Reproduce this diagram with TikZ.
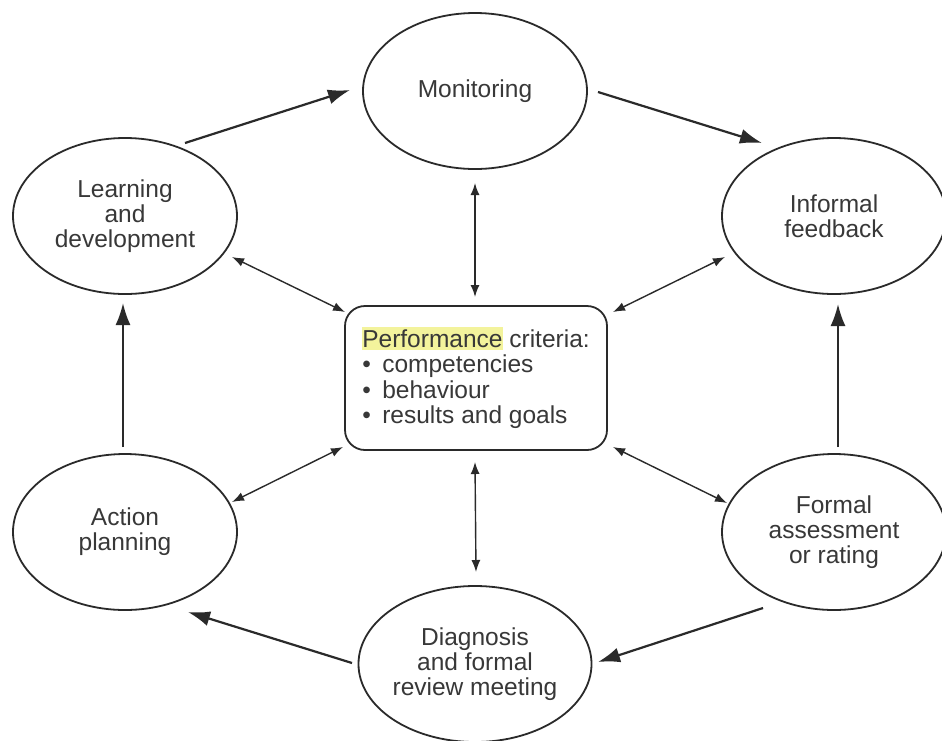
\documentclass[tikz,border=0pt]{standalone}
\usepackage{fontspec}
\setmainfont{Liberation Sans}
\usetikzlibrary{arrows.meta,shapes.geometric}
\definecolor{ink}{HTML}{2A2A2A}
\definecolor{txt}{HTML}{383838}
\definecolor{hly}{HTML}{F3F39C}
\newcommand\hlword[1]{\begingroup\setlength\fboxsep{0pt}\colorbox{hly}{\rule[-3pt]{0pt}{23pt}#1}\endgroup}
\newcommand\bulletitem{\makebox[20pt][l]{•}}
\begin{document}
\begin{tikzpicture}[x=1pt,y=-1pt,
  oval/.style={ellipse, draw=ink, line width=1.8pt, minimum width=224pt, minimum height=156pt,
    inner sep=0pt, align=center, font=\fontsize{24.5}{25}\selectfont, text=txt},
  big/.style={draw=ink, line width=2.2pt, -{Latex[length=22pt,width=15pt]}},
  small/.style={draw=ink, line width=1.4pt, {Latex[length=12pt,width=9pt]}-{Latex[length=12pt,width=9pt]}},
  critbox/.style={draw=ink, line width=1.8pt, rounded corners=20pt, minimum width=262pt,
    minimum height=144pt, align=left, font=\fontsize{24.5}{25.5}\selectfont, text=txt}]
\useasboundingbox (0,0) rectangle (942,740);
\fill[white] (0,0) rectangle (942,740);

\node[oval] (mon) at (475,91) {Monitoring};
\node[oval] (inf) at (834,216) {Informal\\feedback};
\node[oval] (learn) at (125,216) {Learning\\and\\development};
\node[oval] (act) at (125,532) {Action\\planning};
\node[oval] (form) at (834,532) {Formal\\assessment\\or rating};
\node[oval] (diag) at (475,664) {Diagnosis\\and formal\\review meeting};
\node[critbox] (crit) at (476,378) {\hlword{Performance} criteria:\\
  \bulletitem competencies\\
  \bulletitem behaviour\\
  \bulletitem results and goals};

% cycle arrows
\draw[big] ([shift={(60,-73)}]learn.center) -- ([shift={(-125,-1)}]mon.center);
\draw[big] ([shift={(123,1)}]mon.center) -- ([shift={(-72,-73)}]inf.center);
\draw[big] ([shift={(4,-85)}]form.center) -- ([shift={(4,88)}]inf.center);
\draw[big] ([shift={(-71,76)}]form.center) -- ([shift={(123,-2)}]diag.center);
\draw[big] ([shift={(-123,-1)}]diag.center) -- ([shift={(63,80)}]act.center);
\draw[big] ([shift={(-2,-85)}]act.center) -- ([shift={(-2,87)}]learn.center);

% links to criteria
\draw[small] ([shift={(0,92)}]mon.center) -- ([shift={(-1,-81)}]crit.center);
\draw[small] ([shift={(107,41)}]learn.center) -- ([shift={(-131,-66)}]crit.center);
\draw[small] ([shift={(-109,41)}]inf.center) -- ([shift={(137,-66)}]crit.center);
\draw[small] ([shift={(107,-30)}]act.center) -- ([shift={(-133,69)}]crit.center);
\draw[small] ([shift={(-107,-29)}]form.center) -- ([shift={(137,69)}]crit.center);
\draw[small] ([shift={(1,-92)}]diag.center) -- ([shift={(-1,84)}]crit.center);
\end{tikzpicture}
\end{document}
